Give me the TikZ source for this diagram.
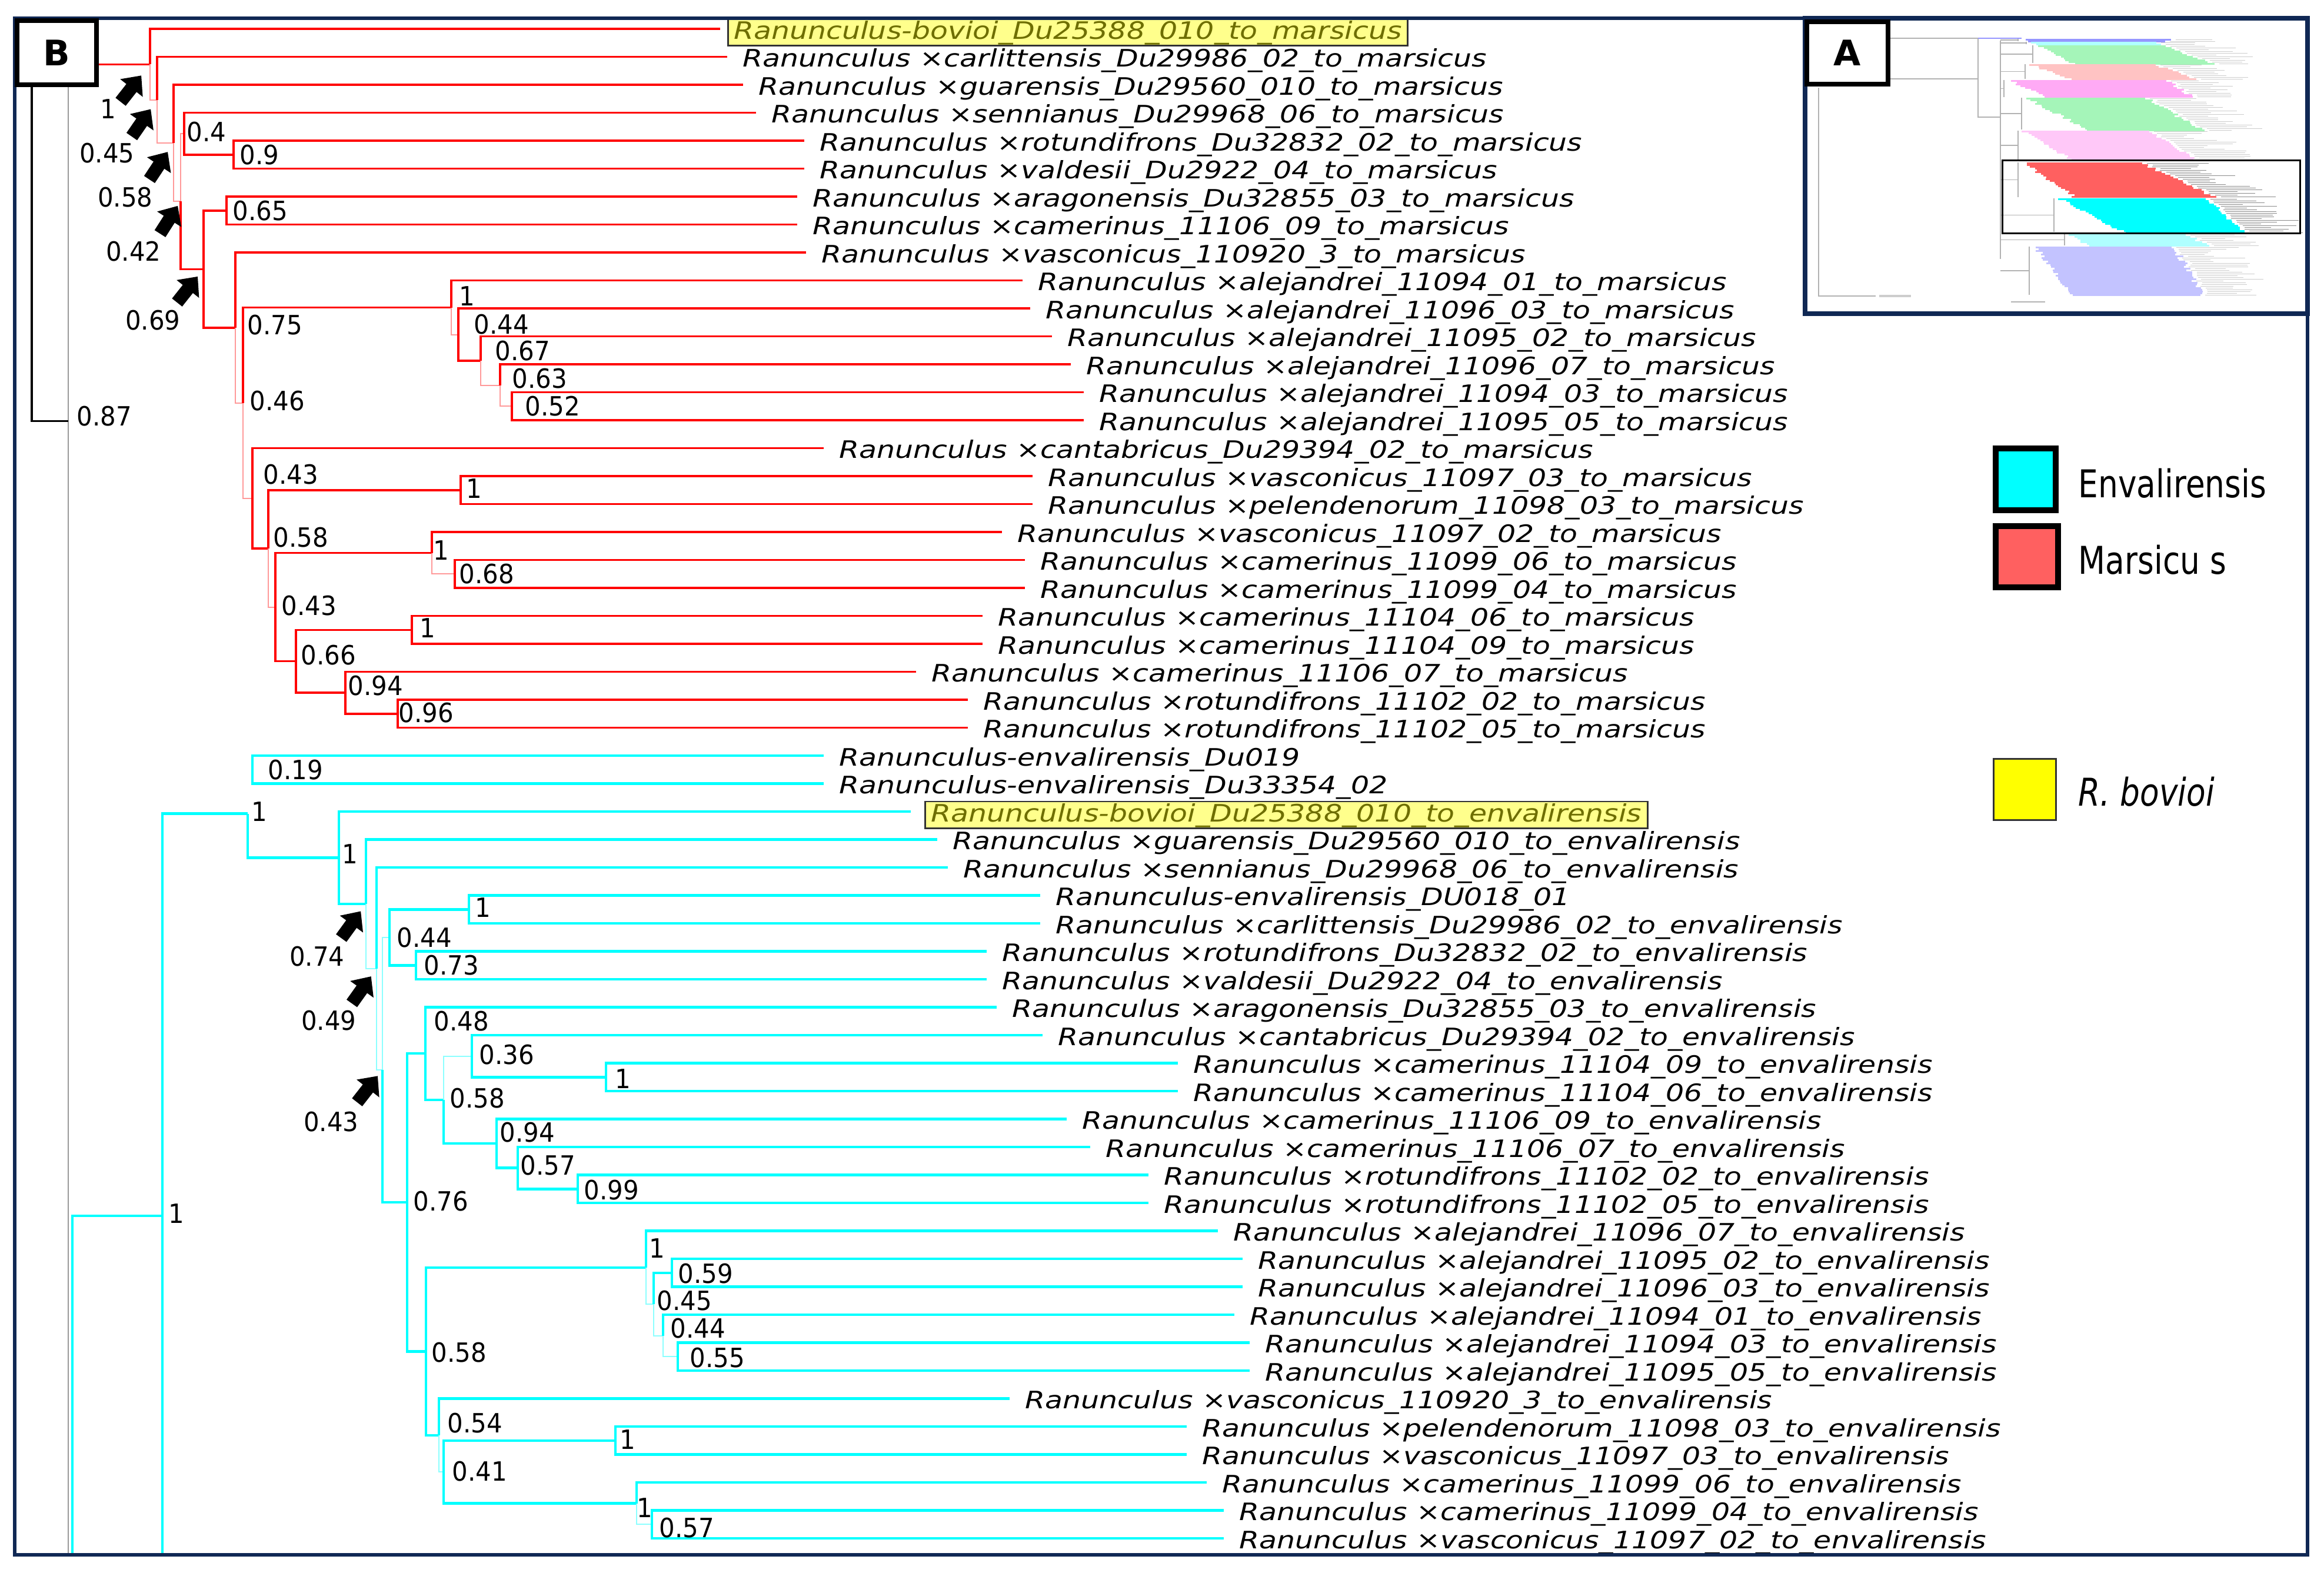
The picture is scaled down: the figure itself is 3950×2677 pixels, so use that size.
\documentclass[tikz,border=0pt]{standalone}
\usepackage{fontspec}
\setmainfont{DejaVu Sans}
\newfontfamily\leaffont{DejaVu Sans}[FakeStretch=1.2]
\newfontfamily\suppfont{DejaVu Sans}[FakeStretch=0.93]
\newfontfamily\legfont{DejaVu Sans}[FakeStretch=0.82]
\usetikzlibrary{arrows.meta}

\definecolor{framecol}{RGB}{16,40,84}
\definecolor{treered}{RGB}{255,0,0}
\definecolor{treecyan}{RGB}{0,255,255}
\definecolor{hlfill}{RGB}{255,255,140}
\definecolor{hltext}{RGB}{110,110,0}
\definecolor{legred}{RGB}{255,96,96}
\definecolor{legyellow}{RGB}{255,255,0}
\definecolor{miniblue}{RGB}{150,150,255}
\definecolor{minilcyan}{RGB}{175,255,255}
\definecolor{minigreen}{RGB}{165,245,185}
\definecolor{minisalmon}{RGB}{255,195,195}
\definecolor{minimagenta}{RGB}{255,170,245}
\definecolor{minipink}{RGB}{255,200,248}
\definecolor{minilav}{RGB}{195,195,255}
\definecolor{minigray}{RGB}{205,205,205}
\definecolor{minidark}{RGB}{140,140,140}

\begin{document}
\begin{tikzpicture}[x=0.01cm, y=-0.01cm,
    redline/.style={draw=treered, line width=0.035cm},
    redpale/.style={draw=treered!40, line width=0.02cm},
    cyanline/.style={draw=treecyan, line width=0.045cm},
    cyanpale/.style={draw=treecyan!45, line width=0.018cm},
    blackline/.style={draw=black, line width=0.03cm},
    grayline/.style={draw=black!40, line width=0.012cm},
    minib/.style={draw=black!30, line width=0.012cm},
    leaflab/.style={anchor=base west, inner sep=0pt, xshift=0.26cm, yshift=-0.17cm,
        font=\leaffont\itshape\fontsize{11.6}{13}\selectfont},
    hlbox/.style={anchor=base west, yshift=-0.17cm, fill=hlfill, draw=black!80,
        line width=0.025cm, text=hltext, inner xsep=0.1cm, inner ysep=0pt,
        text height=0.34cm, text depth=0.115cm,
        font=\leaffont\itshape\fontsize{11.6}{13}\selectfont},
    supp/.style={anchor=west, inner sep=0pt, font=\suppfont\fontsize{12.8}{14}\selectfont},
    suppr/.style={supp, anchor=east},
    pointer/.style={draw=black, line width=0.22cm, -{Triangle[length=0.27cm, width=0.47cm]}},
    panel/.style={draw=black, fill=white, line width=0.08cm, inner sep=0pt,
        font=\bfseries\fontsize{17}{20}\selectfont},
    legtext/.style={anchor=base west, inner sep=0pt, font=\legfont\fontsize{18.5}{22}\selectfont}]

  \useasboundingbox (0,0) rectangle (3950,2677);

  % --- leaves (branch end, label) ---
  \coordinate (l1) at (1224,49);
  \node[hlbox, xshift=0.12cm] (t1) at (l1) {Ranunculus-bovioi\_Du25388\_010\_to\_marsicus};
  \coordinate (l29) at (1548,1379);
  \node[hlbox, xshift=0.23cm] (t29) at (l29) {Ranunculus-bovioi\_Du25388\_010\_to\_envalirensis};
  \foreach \i/\xe/\lab in {
      2/1236/{Ranunculus ×carlittensis\_Du29986\_02\_to\_marsicus},
      3/1263/{Ranunculus ×guarensis\_Du29560\_010\_to\_marsicus},
      4/1285/{Ranunculus ×sennianus\_Du29968\_06\_to\_marsicus},
      5/1367/{Ranunculus ×rotundifrons\_Du32832\_02\_to\_marsicus},
      6/1367/{Ranunculus ×valdesii\_Du2922\_04\_to\_marsicus},
      7/1355/{Ranunculus ×aragonensis\_Du32855\_03\_to\_marsicus},
      8/1355/{Ranunculus ×camerinus\_11106\_09\_to\_marsicus},
      9/1370/{Ranunculus ×vasconicus\_110920\_3\_to\_marsicus},
      10/1738/{Ranunculus ×alejandrei\_11094\_01\_to\_marsicus},
      11/1751/{Ranunculus ×alejandrei\_11096\_03\_to\_marsicus},
      12/1788/{Ranunculus ×alejandrei\_11095\_02\_to\_marsicus},
      13/1820/{Ranunculus ×alejandrei\_11096\_07\_to\_marsicus},
      14/1842/{Ranunculus ×alejandrei\_11094\_03\_to\_marsicus},
      15/1842/{Ranunculus ×alejandrei\_11095\_05\_to\_marsicus},
      16/1400/{Ranunculus ×cantabricus\_Du29394\_02\_to\_marsicus},
      17/1755/{Ranunculus ×vasconicus\_11097\_03\_to\_marsicus},
      18/1755/{Ranunculus ×pelendenorum\_11098\_03\_to\_marsicus},
      19/1703/{Ranunculus ×vasconicus\_11097\_02\_to\_marsicus},
      20/1742/{Ranunculus ×camerinus\_11099\_06\_to\_marsicus},
      21/1742/{Ranunculus ×camerinus\_11099\_04\_to\_marsicus},
      22/1670/{Ranunculus ×camerinus\_11104\_06\_to\_marsicus},
      23/1670/{Ranunculus ×camerinus\_11104\_09\_to\_marsicus},
      24/1557/{Ranunculus ×camerinus\_11106\_07\_to\_marsicus},
      25/1645/{Ranunculus ×rotundifrons\_11102\_02\_to\_marsicus},
      26/1645/{Ranunculus ×rotundifrons\_11102\_05\_to\_marsicus},
      27/1400/{Ranunculus-envalirensis\_Du019},
      28/1400/{Ranunculus-envalirensis\_Du33354\_02},
      30/1593/{Ranunculus ×guarensis\_Du29560\_010\_to\_envalirensis},
      31/1611/{Ranunculus ×sennianus\_Du29968\_06\_to\_envalirensis},
      32/1768/{Ranunculus-envalirensis\_DU018\_01},
      33/1768/{Ranunculus ×carlittensis\_Du29986\_02\_to\_envalirensis},
      34/1677/{Ranunculus ×rotundifrons\_Du32832\_02\_to\_envalirensis},
      35/1677/{Ranunculus ×valdesii\_Du2922\_04\_to\_envalirensis},
      36/1694/{Ranunculus ×aragonensis\_Du32855\_03\_to\_envalirensis},
      37/1772/{Ranunculus ×cantabricus\_Du29394\_02\_to\_envalirensis},
      38/2002/{Ranunculus ×camerinus\_11104\_09\_to\_envalirensis},
      39/2002/{Ranunculus ×camerinus\_11104\_06\_to\_envalirensis},
      40/1813/{Ranunculus ×camerinus\_11106\_09\_to\_envalirensis},
      41/1853/{Ranunculus ×camerinus\_11106\_07\_to\_envalirensis},
      42/1952/{Ranunculus ×rotundifrons\_11102\_02\_to\_envalirensis},
      43/1952/{Ranunculus ×rotundifrons\_11102\_05\_to\_envalirensis},
      44/2070/{Ranunculus ×alejandrei\_11096\_07\_to\_envalirensis},
      45/2112/{Ranunculus ×alejandrei\_11095\_02\_to\_envalirensis},
      46/2112/{Ranunculus ×alejandrei\_11096\_03\_to\_envalirensis},
      47/2098/{Ranunculus ×alejandrei\_11094\_01\_to\_envalirensis},
      48/2124/{Ranunculus ×alejandrei\_11094\_03\_to\_envalirensis},
      49/2124/{Ranunculus ×alejandrei\_11095\_05\_to\_envalirensis},
      50/1716/{Ranunculus ×vasconicus\_110920\_3\_to\_envalirensis},
      51/2017/{Ranunculus ×pelendenorum\_11098\_03\_to\_envalirensis},
      52/2017/{Ranunculus ×vasconicus\_11097\_03\_to\_envalirensis},
      53/2051/{Ranunculus ×camerinus\_11099\_06\_to\_envalirensis},
      54/2080/{Ranunculus ×camerinus\_11099\_04\_to\_envalirensis},
      55/2080/{Ranunculus ×vasconicus\_11097\_02\_to\_envalirensis}}{
    \coordinate (l\i) at (\xe,{49+(\i-1)*47.5});
    \node[leaflab] (t\i) at (l\i) {\lab};
  }

  % --- marsicus clade nodes ---
  \coordinate (m1) at (255,109.4);   \coordinate (m2) at (267,169.8);
  \coordinate (m3) at (295,243.1);   \coordinate (m4) at (307,342.2);
  \coordinate (m5) at (313,227.1);   \coordinate (m6) at (397,262.75);
  \coordinate (m7) at (346,457.3);   \coordinate (m8) at (385,357.75);
  \coordinate (m9) at (400,556.8);   \coordinate (m10) at (413,684.7);
  \coordinate (m11) at (767,522.5);  \coordinate (m12) at (779,568.5);
  \coordinate (m13) at (817,613.1);  \coordinate (m14) at (850,654.6);
  \coordinate (m15) at (870,690.25); \coordinate (m16) at (429,846.8);
  \coordinate (m17) at (456,932.2);  \coordinate (m18) at (783,832.75);
  \coordinate (m19) at (468,1031.6); \coordinate (m20) at (734,939.6);
  \coordinate (m21) at (773,975.25); \coordinate (m22) at (503,1123.7);
  \coordinate (m23) at (700,1070.25);\coordinate (m24) at (587,1177.1);
  \coordinate (m25) at (676,1212.75);

  % --- envalirensis clade nodes ---
  \coordinate (e0) at (276,2066);    \coordinate (e1) at (421,1382.7);
  \coordinate (e2) at (576,1457.6);  \coordinate (e3) at (622,1536.2);
  \coordinate (e4) at (640,1646);    \coordinate (e5) at (650,1818);
  \coordinate (e6) at (662,1592.75); \coordinate (e7) at (797,1545.25);
  \coordinate (e8) at (707,1640.25); \coordinate (e9) at (692,2043.2);
  \coordinate (e10) at (723,1790.2); \coordinate (e11) at (724,2296.3);
  \coordinate (e12) at (754,1868.8); \coordinate (e13) at (802,1794.6);
  \coordinate (e14) at (1030,1830.25);\coordinate (e15) at (844,1943.1);
  \coordinate (e16) at (880,1984.6); \coordinate (e17) at (982,2020.25);
  \coordinate (e18) at (1098,2153.8);\coordinate (e19) at (746,2438.8);
  \coordinate (e20) at (1111,2216.2);\coordinate (e21) at (1142,2162.75);
  \coordinate (e22) at (1127,2269.6);\coordinate (e23) at (1152,2305.25);
  \coordinate (e24) at (754,2501.2); \coordinate (e25) at (1046,2447.75);
  \coordinate (e26) at (1082,2554.6);\coordinate (e27) at (1108,2590.25);
  \coordinate (d1) at (429,1307.75);

  % root lines
  \coordinate (g0) at (116,40);   \coordinate (g1) at (116,2642);
  \coordinate (k0) at (54,109.4); \coordinate (k1) at (116,715);
  \coordinate (cb0) at (123,2642); \coordinate (cb1) at (276,2642);
  \draw[grayline] (g0) -- (g1);
  \draw[blackline] (k0) |- (k1);
  \draw[redline] (k0) -- (m1);
  \draw[cyanline] (cb0) |- (e0);
  \draw[cyanline] (e0) -- (cb1);

  % branches: parent/child/style
  \foreach \p/\c/\s in {
      m1/l1/redline, m1/m2/redpale, m2/l2/redline, m2/m3/redpale,
      m3/l3/redline, m3/m4/redpale, m4/m5/redpale, m4/m7/redline,
      m5/l4/redline, m5/m6/redline, m6/l5/redline, m6/l6/redline,
      m7/m8/redline, m7/m9/redline, m8/l7/redline, m8/l8/redline,
      m9/l9/redline, m9/m10/redpale, m10/m11/redline, m10/m16/redpale,
      m11/l10/redline, m11/m12/redpale, m12/l11/redline, m12/m13/redline,
      m13/l12/redline, m13/m14/redpale, m14/l13/redline, m14/m15/redpale,
      m15/l14/redline, m15/l15/redline, m16/l16/redline, m16/m17/redline,
      m17/m18/redline, m17/m19/redpale, m18/l17/redline, m18/l18/redline,
      m19/m20/redline, m19/m22/redline, m20/l19/redline, m20/m21/redpale,
      m21/l20/redline, m21/l21/redline, m22/m23/redline, m22/m24/redline,
      m23/l22/redline, m23/l23/redline, m24/l24/redline, m24/m25/redline,
      m25/l25/redline, m25/l26/redline,
      e0/e1/cyanline, e1/e2/cyanline, d1/l27/cyanline, d1/l28/cyanline,
      e2/l29/cyanline, e2/e3/cyanline, e3/l30/cyanline, e3/e4/cyanpale,
      e4/l31/cyanline, e4/e5/cyanpale, e5/e6/cyanpale, e5/e9/cyanline,
      e6/e7/cyanline, e6/e8/cyanline, e7/l32/cyanline, e7/l33/cyanline,
      e8/l34/cyanline, e8/l35/cyanline, e9/e10/cyanline, e9/e11/cyanline,
      e10/l36/cyanline, e10/e12/cyanline, e12/e13/cyanpale, e12/e15/cyanline,
      e13/l37/cyanline, e13/e14/cyanline, e14/l38/cyanline, e14/l39/cyanline,
      e15/l40/cyanline, e15/e16/cyanline, e16/l41/cyanline, e16/e17/cyanline,
      e17/l42/cyanline, e17/l43/cyanline, e11/e18/cyanline, e11/e19/cyanline,
      e18/l44/cyanline, e18/e20/cyanpale, e20/e21/cyanline, e20/e22/cyanpale,
      e21/l45/cyanline, e21/l46/cyanline, e22/l47/cyanline, e22/e23/cyanpale,
      e23/l48/cyanline, e23/l49/cyanline, e19/l50/cyanline, e19/e24/cyanpale,
      e24/e25/cyanline, e24/e26/cyanline, e25/l51/cyanline, e25/l52/cyanline,
      e26/l53/cyanline, e26/e27/cyanpale, e27/l54/cyanline, e27/l55/cyanline}
    \draw[\s] (\p) |- (\c);

  % support values
  \foreach \sx/\sy/\sv [count=\n] in {
      317/224/0.4, 407/263/0.9, 395/358/0.65, 420/552/0.75, 424/681/0.46,
      780/503/1, 805/551/0.44, 841/596/0.67, 870/643/0.63, 892/690/0.52,
      447/806/0.43, 464/913/0.58, 792/830/1, 478/1029/0.43, 736/935/1,
      780/975/0.68, 511/1113/0.66, 713/1067/1, 591/1165/0.94, 677/1211/0.96,
      130/707/0.87,
      455/1308/0.19, 427/1379/1, 581/1451/1, 674/1593/0.44, 807/1542/1,
      720/1640/0.73, 737/1735/0.48, 814/1792/0.36, 1045/1833/1, 764/1866/0.58,
      849/1924/0.94, 884/1980/0.57, 992/2022/0.99, 702/2041/0.76, 286/2062/1,
      1103/2121/1, 1152/2164/0.59, 1116/2210/0.45, 1139/2257/0.44, 1172/2307/0.55,
      733/2298/0.58, 760/2418/0.54, 768/2500/0.41, 1053/2446/1, 1082/2562/1,
      1120/2596/0.57}
    \node[supp] (s\n) at (\sx,\sy) {\sv};

  % arrows to crowded nodes, with their values
  \foreach \ax/\ay/\nd/\sh/\lx/\ly/\lv [count=\n] in {
      205/173/m1/0.24cm/198/185/1,
      224/232/m2/0.19cm/229/260/0.45,
      254/305/m3/0.18cm/260/335/0.58,
      272/397/m4/0.09cm/274/427/0.42,
      301/514/m7/0.16cm/307/544/0.69,
      580/1594/e3/0.15cm/586/1625/0.74,
      598/1705/e4/0.16cm/606/1734/0.49,
      607/1873/e5/0.13cm/610/1906/0.43}{
    \coordinate (a\n) at (\ax,\ay);
    \draw[pointer, shorten >=\sh] (a\n) -- (\nd);
    \node[suppr] (as\n) at (\lx,\ly) {\lv};
  }

  % --- inset A: overview tree ---
  \draw[minib] (3213,65) -- (3362,65);
  \draw[minib] (3213,134) -- (3362,134);
  \draw[minib] (3362,65) -- (3362,199) -- (3400,199);
  \draw[draw=miniblue, line width=0.012cm] (3362,65) -- (3436,65);
  \draw[minib] (3400,69) -- (3400,440);
  \draw[minib] (3091,149) -- (3091,503) -- (3188,503);
  \fill[minigray] (3194,501) rectangle (3248,505);
  \draw[minib] (3418,513) -- (3476,513);
  \pgfmathsetseed{11}
  \foreach \btop/\bbot/\bla/\blb/\bra/\brb/\bcol/\tcol in {
      66/70/3436/3440/3679/3679/miniblue/minigray,
      71/75/3450/3455/3660/3665/minilcyan/minigray,
      77/107/3461/3521/3673/3758/minigreen/minigray,
      109/134/3448/3515/3660/3727/minisalmon/minigray,
      136/165/3412/3473/3679/3721/minimagenta/minigray,
      166/220/3442/3545/3642/3739/minigreen/minigray,
      222/272/3436/3515/3648/3727/minipink/minigray,
      276/335/3436/3521/3636/3758/legred/minidark,
      337/394/3497/3606/3745/3812/treecyan/minidark,
      398/417/3515/3545/3715/3745/minilcyan/minigray,
      419/501/3455/3515/3690/3739/minilav/minigray}{
    \pgfmathtruncatemacro\nrows{(\bbot-\btop)/3}
    \foreach \k in {0,...,\nrows}{
      \pgfmathsetmacro\byy{\btop+3*\k}
      \pgfmathsetmacro\bandf{\k/max(\nrows,1)}
      \pgfmathsetmacro\bxl{\bla+(\blb-\bla)*\bandf+10*rnd}
      \pgfmathsetmacro\bxr{\bra+(\brb-\bra)*\bandf+12*rnd}
      \pgfmathsetmacro\bxt{\bxr+45+70*rnd}
      \fill[\bcol] (\bxl,\byy) rectangle (\bxr,{\byy+3});
      \fill[\tcol] ({\bxr+8},{\byy+0.6}) rectangle (\bxt,{\byy+2.4});
    }
    \draw[minib] ({\bla-6},\btop) -- ({\bla-6},\bbot);
    \draw[minib] (3400,{(\btop+\bbot)/2}) -- ({\bla-6},{(\btop+\bbot)/2});
  }
  \draw[black, line width=0.03cm] (3403,272) rectangle (3909,396);

  % --- legend ---
  \draw[line width=0.1cm, fill=treecyan] (3392,762) rectangle (3494,867);
  \draw[line width=0.1cm, fill=legred] (3392,894) rectangle (3498,998);
  \draw[draw=black!80, line width=0.03cm, fill=legyellow] (3388,1289) rectangle (3494,1393);
  \node[legtext] (lg1) at (3532,845) {Envalirensis};
  \node[legtext] (lg2) at (3532,975) {Marsicu s};
  \node[legtext, font=\legfont\itshape\fontsize{18.5}{22}\selectfont] (lg3) at (3532,1369) {R. bovioi};

  % --- frames and panel letters ---
  \draw[draw=framecol, line width=0.06cm] (25,31) rectangle (3922,2642);
  \draw[draw=framecol, line width=0.085cm] (3068,31) rectangle (3922,533);
  \node[panel, minimum width=1.35cm, minimum height=1.09cm] (pB) at (96.5,89.5) {B};
  \node[panel, minimum width=1.38cm, minimum height=1.06cm] (pA) at (3140,90) {A};

\end{tikzpicture}
\end{document}
